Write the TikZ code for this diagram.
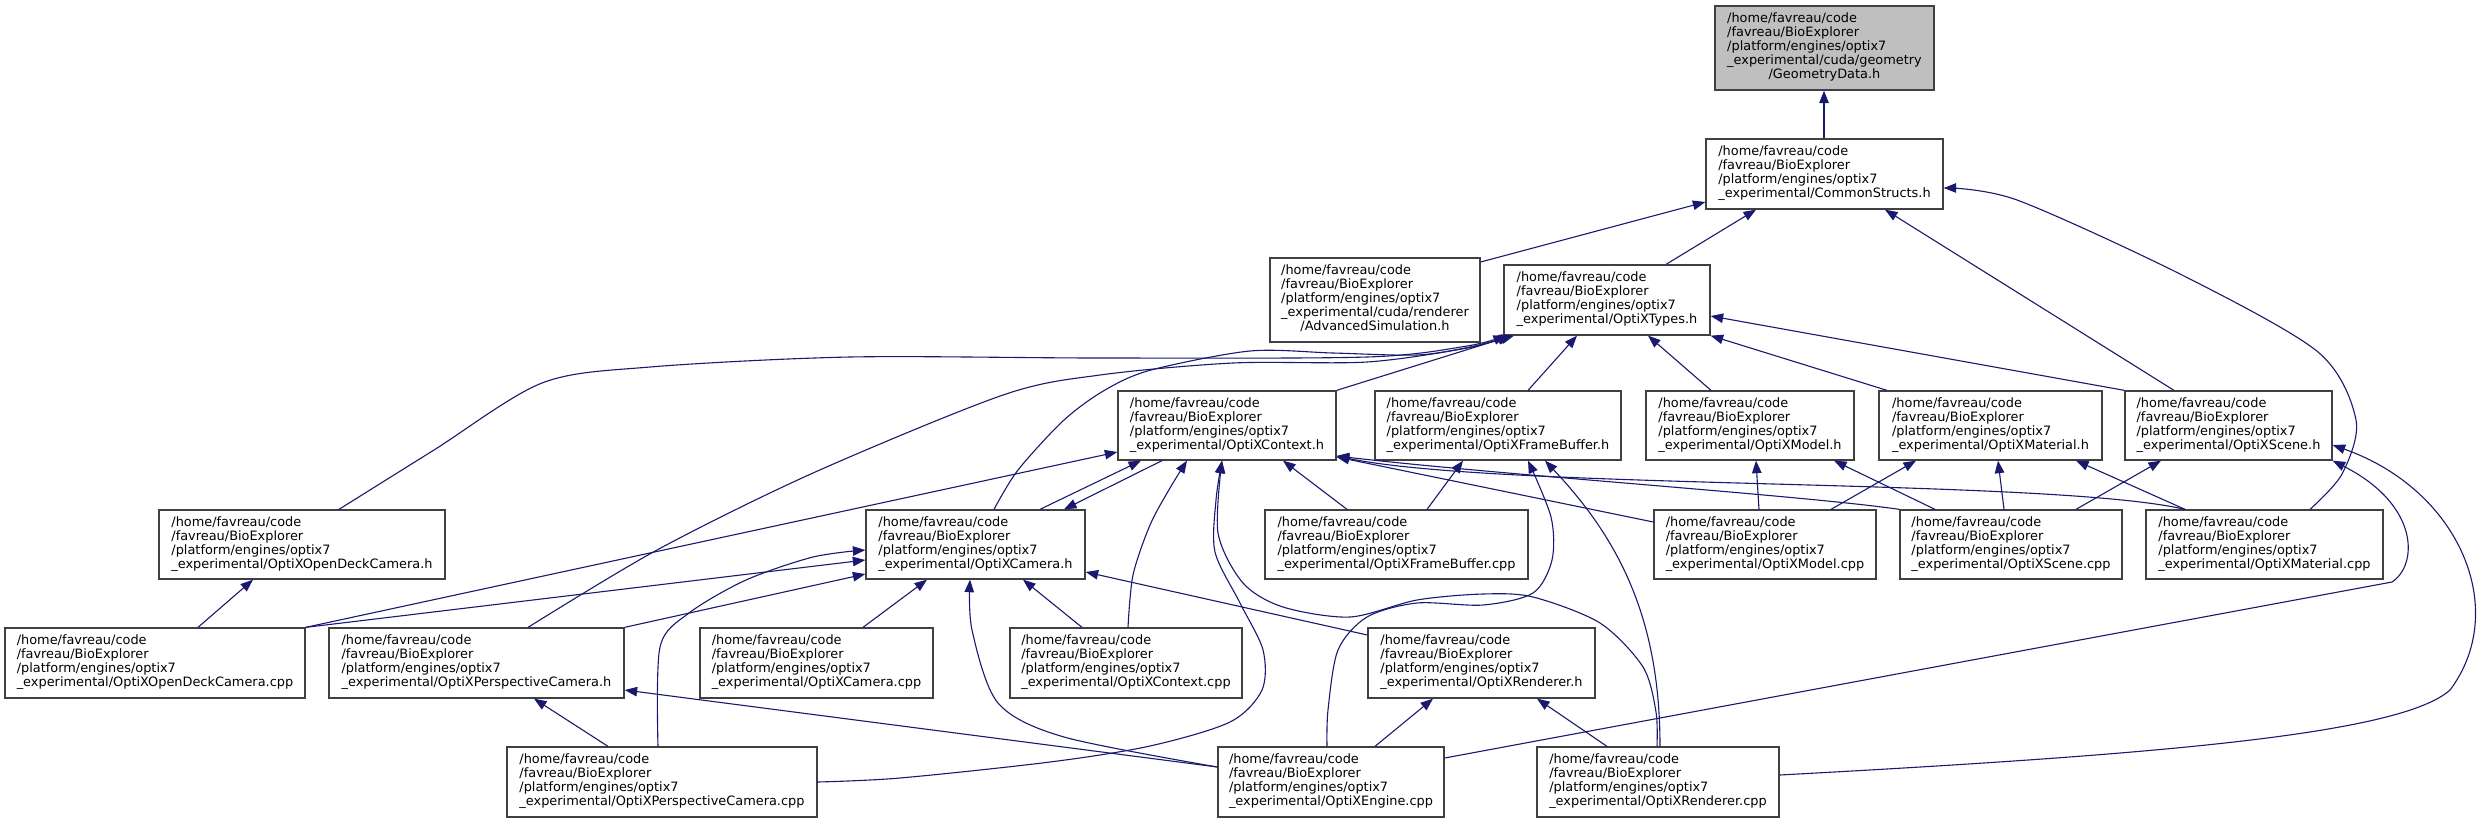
\documentclass[tikz,border=0pt]{standalone}
\usepackage{fontspec}
\setmainfont{DejaVu Sans}
\usetikzlibrary{arrows.meta}
\definecolor{edgeblue}{HTML}{191970}
\definecolor{boxline}{HTML}{404040}
\definecolor{rootfill}{HTML}{BFBFBF}
\newcommand{\lbfour}[1]{\begin{tabular}{@{}l@{}}/home/favreau/code\\/favreau/BioExplorer\\/platform/engines/optix7\\\_experimental/#1\end{tabular}}
\newcommand{\lbfive}[2]{\begin{tabular}{@{}l@{}}/home/favreau/code\\/favreau/BioExplorer\\/platform/engines/optix7\\\_experimental/#1\\\multicolumn{1}{@{}c@{}}{#2}\end{tabular}}
\newcommand{\bx}[7][]{\node[box,#1, minimum width={(#5)-(#3)}, minimum height={(#6)-(#4)}] (#2) at ({((#3)+(#5))/2},{((#4)+(#6))/2}) {#7};}
\begin{document}
\begin{tikzpicture}[x=1pt,y=-1pt,
  box/.style={draw=boxline, line width=1.3pt, fill=white, inner sep=0pt, font=\fontsize{12.9}{14}\selectfont},
  ed/.style={draw=edgeblue, line width=1.1pt, -{Triangle[length=12.5pt,width=9.5pt]}}]
\fill[white] (0,0) rectangle (2484,823);
\useasboundingbox (0,0) rectangle (2484,823);
% nodes
\bx[fill=rootfill]{geo}{1715}{6}{1934}{90}{\lbfive{cuda/geometry}{/GeometryData.h}}
\bx{cs}{1706}{139}{1943}{209}{\lbfour{CommonStructs.h}}
\bx{adv}{1270}{258}{1480}{342}{\lbfive{cuda/renderer}{/AdvancedSimulation.h}}
\bx{types}{1504}{265}{1710}{335}{\lbfour{OptiXTypes.h}}
\bx{ctx}{1118}{391}{1336}{460}{\lbfour{OptiXContext.h}}
\bx{fbh}{1375}{391}{1621}{460}{\lbfour{OptiXFrameBuffer.h}}
\bx{modh}{1646}{391}{1854}{460}{\lbfour{OptiXModel.h}}
\bx{math}{1879}{391}{2102}{460}{\lbfour{OptiXMaterial.h}}
\bx{sceh}{2125}{391}{2332}{460}{\lbfour{OptiXScene.h}}
\bx{odch}{159}{510}{445}{579}{\lbfour{OptiXOpenDeckCamera.h}}
\bx{camh}{866}{510}{1085}{579}{\lbfour{OptiXCamera.h}}
\bx{fbc}{1265}{510}{1528}{579}{\lbfour{OptiXFrameBuffer.cpp}}
\bx{modc}{1654}{510}{1876}{579}{\lbfour{OptiXModel.cpp}}
\bx{scec}{1900}{510}{2122}{579}{\lbfour{OptiXScene.cpp}}
\bx{matc}{2146}{510}{2383}{579}{\lbfour{OptiXMaterial.cpp}}
\bx{odcc}{5}{628}{305}{698}{\lbfour{OptiXOpenDeckCamera.cpp}}
\bx{pch}{329}{628}{624}{698}{\lbfour{OptiXPerspectiveCamera.h}}
\bx{camc}{700}{628}{933}{698}{\lbfour{OptiXCamera.cpp}}
\bx{ctxc}{1010}{628}{1242}{698}{\lbfour{OptiXContext.cpp}}
\bx{renh}{1368}{628}{1595}{698}{\lbfour{OptiXRenderer.h}}
\bx{pcc}{507}{747}{817}{817}{\lbfour{OptiXPerspectiveCamera.cpp}}
\bx{eng}{1218}{747}{1444}{817}{\lbfour{OptiXEngine.cpp}}
\bx{renc}{1537}{747}{1779}{817}{\lbfour{OptiXRenderer.cpp}}
% edges
\draw[ed] (cs.north -| 1824,0) -- (geo.south -| 1824,0);
\draw[ed] (adv.east |- 0,262) -- (cs.west |- 0,202);
\draw[ed] (types.north -| 1666,0) -- (cs.south -| 1756,0);
\draw[ed] (sceh.north -| 2174,0) -- (cs.south -| 1885,0);
\draw[ed] plot[smooth] coordinates {(matc.north -| 2310,0) (2342,474) (2356,420) (2318,352) (2182,275) (2017,200) (cs.east |- 0,188)};
\draw[ed] (ctx.north east) -- (types.south -| 1512,0);
\draw[ed] (fbh.north -| 1528,0) -- (types.south -| 1577,0);
\draw[ed] (modh.north -| 1711,0) -- (types.south -| 1648,0);
\draw[ed] (math.north -| 1887,0) -- (types.south east);
\draw[ed] (sceh.north west) -- (types.east |- 0,316);
\draw[ed] plot[smooth] coordinates {(odch.north -| 339,0) (434,450) (542,383) (650,367) (850,357) (1100,358) (1367,357) (1467,346) (types.south -| 1506,0)};
\draw[ed] plot[smooth] coordinates {(pch.north -| 528,0) (657,550) (813,473) (1003,395) (1100,375) (1233,363) (1367,362) (1467,348) (types.south -| 1510,0)};
\draw[ed] plot[smooth] coordinates {(camh.north -| 994,0) (1018,470) (1064,420) (1105,390) (1151,370) (1250,351) (1333,353) (1417,355) (1470,347) (types.south -| 1514,0)};
\draw[ed] (camh.north -| 1040,0) -- (ctx.south -| 1141,0);
\draw[ed] (ctx.south -| 1162,0) -- (camh.north -| 1064,0);
\draw[ed] (odcc.north -| 198,0) -- (odch.south -| 253,0);
\draw[ed] (odcc.north east) -- (camh.west |- 0,560);
\draw[ed] (odcc.north east) -- (ctx.west |- 0,452);
\draw[ed] (pch.north east) -- (camh.west |- 0,574);
\draw[ed] (pcc.north -| 608,0) -- (pch.south -| 534,0);
\draw[ed] plot[smooth] coordinates {(pcc.north -| 658,0) (660,647) (689,613) (746,580) (813,557) (camh.west |- 0,550)};
\draw[ed] plot[smooth] coordinates {(pcc.east |- 0,782) (900,778) (1050,762) (1150,746) (1230,722) (1262,690) (1263,650) (1240,603) (1215,552) (1216,500) (ctx.south -| 1222,0)};
\draw[ed] (camc.north -| 863,0) -- (camh.south -| 927,0);
\draw[ed] (ctxc.north -| 1082,0) -- (camh.south -| 1023,0);
\draw[ed] plot[smooth] coordinates {(ctxc.north -| 1128,0) (1133,575) (1150,525) (1170,488) (ctx.south -| 1187,0)};
\draw[ed] (renh.west |- 0,635) -- (camh.east |- 0,572);
\draw[ed] plot[smooth] coordinates {(eng.west |- 0,767) (1064,737) (998,703) (972,630) (camh.south -| 970,0)};
\draw[ed] (eng.west |- 0,767) -- (pch.east |- 0,690);
\draw[ed] (eng.north -| 1375,0) -- (renh.south -| 1433,0);
\draw[ed] plot[smooth] coordinates {(eng.north -| 1327,0) (1328,710) (1338,650) (1367,617) (1417,603) (1483,605) (1533,593) (1552,560) (1551,517) (fbh.south -| 1528,0)};
\draw[ed] (eng.east |- 0,758) -- (2392,582) .. controls (2418,565) and (2420,505) .. (sceh.south east);
\draw[ed] (renc.north -| 1607,0) -- (renh.south -| 1537,0);
\draw[ed] (renc.north -| 1660,0) .. controls (1660,620) and (1620,540) .. (fbh.south -| 1545,0);
\draw[ed] plot[smooth] coordinates {(renc.north -| 1657,0) (1656,712) (1643,667) (1600,623) (1533,597) (1483,594) (1417,600) (1350,617) (1283,607) (1243,583) (1218,533) (ctx.south -| 1222,0)};
\draw[ed] (renc.east |- 0,775) .. controls (2150,755) and (2400,735) .. (2450,690) .. controls (2510,610) and (2460,490) .. (sceh.east |- 0,445);
\draw[ed] (fbc.north -| 1427,0) -- (fbh.south -| 1463,0);
\draw[ed] (fbc.north -| 1347,0) -- (ctx.south -| 1283,0);
\draw[ed] (modc.north -| 1759,0) -- (modh.south -| 1756,0);
\draw[ed] (modc.north -| 1831,0) -- (math.south -| 1916,0);
\draw[ed] (modc.west |- 0,522) -- (ctx.east |- 0,457);
\draw[ed] (scec.north -| 2076,0) -- (sceh.south -| 2161,0);
\draw[ed] (scec.north -| 1935,0) -- (modh.south -| 1834,0);
\draw[ed] (scec.north -| 2004,0) -- (math.south -| 1998,0);
\draw[ed] (scec.north west) .. controls (1800,495) and (1500,475) .. (ctx.east |- 0,456);
\draw[ed] (matc.north -| 2185,0) -- (math.south -| 2076,0);
\draw[ed] (matc.north -| 2185,0) .. controls (2050,478) and (1500,490) .. (ctx.east |- 0,456);
\end{tikzpicture}
\end{document}
